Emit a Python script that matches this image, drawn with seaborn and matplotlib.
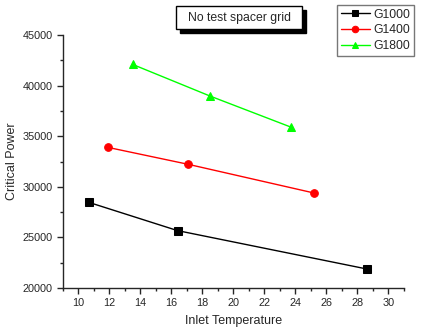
import matplotlib
matplotlib.use("Agg")
import matplotlib.pyplot as plt
from matplotlib.ticker import MultipleLocator
from matplotlib.patches import Rectangle
import seaborn as sns
import pandas as pd

sns.set_style("ticks")
plt.rcParams['font.family'] = ['Liberation Sans', 'DejaVu Sans']

series = ["G1000", "G1400", "G1800"]
x_g1000 = [10.7, 16.4, 28.6]
y_g1000 = [28450, 25670, 21880]
x_g1400 = [11.9, 17.1, 25.2]
y_g1400 = [33900, 32220, 29390]
x_g1800 = [13.5, 18.5, 23.7]
y_g1800 = [42100, 38970, 35910]
colors = ["#000000", "#ff0000", "#00ff00"]
markers = ["s", "o", "^"]

df = pd.concat([
    pd.DataFrame({"x": x_g1000, "y": y_g1000, "s": "G1000"}),
    pd.DataFrame({"x": x_g1400, "y": y_g1400, "s": "G1400"}),
    pd.DataFrame({"x": x_g1800, "y": y_g1800, "s": "G1800"}),
])

W, H = 422, 331
fig = plt.figure(figsize=(W / 100, H / 100), dpi=100)
ax = fig.add_axes([0.149, 0.130, 0.808, 0.764])
for name, c, m in zip(series, colors, markers):
    d = df[df["s"] == name]
    sns.lineplot(data=d, x="x", y="y", ax=ax, color=c, marker=m, markersize=5.5,
                 markeredgecolor=c, linewidth=1.0, label=name, sort=False,
                 legend=False)

ax.set_xlim(9, 31)
ax.set_ylim(20000, 45000)
ax.xaxis.set_major_locator(MultipleLocator(2))
ax.xaxis.set_minor_locator(MultipleLocator(1))
ax.yaxis.set_major_locator(MultipleLocator(5000))
ax.yaxis.set_minor_locator(MultipleLocator(2500))
ax.tick_params(which="major", length=4, width=1, labelsize=7.8, direction="out")
ax.tick_params(which="minor", length=2.5, width=1, direction="out")
for s in ["top", "right"]:
    ax.spines[s].set_visible(False)
for s in ["left", "bottom"]:
    ax.spines[s].set_linewidth(1)
ax.set_xlabel("Inlet Temperature", fontsize=9, labelpad=5)
ax.set_ylabel("Critical Power", fontsize=9, labelpad=3)

handles = ax.get_lines()
leg = fig.legend(handles, series, loc="upper left",
                 bbox_to_anchor=(337 / W, 1 - 5 / H), fontsize=8.8,
                 frameon=True, fancybox=False, edgecolor="#555555",
                 handlelength=2.4, handletextpad=0.3, borderpad=0.3,
                 labelspacing=0.3, borderaxespad=0, markerscale=0.85)
leg.get_frame().set_linewidth(1)

# title box with shadow
bx0, bx1, by0, by1 = 176, 302, 6, 29
fig.patches.append(Rectangle(((bx0 + 4) / W, 1 - (by1 + 4) / H), (bx1 - bx0) / W,
                             (by1 - by0) / H, transform=fig.transFigure,
                             fc="black", ec="black", lw=1, zorder=1))
fig.patches.append(Rectangle((bx0 / W, 1 - by1 / H), (bx1 - bx0) / W,
                             (by1 - by0) / H, transform=fig.transFigure,
                             fc="white", ec="black", lw=1, zorder=2))
fig.text((bx0 + bx1) / 2 / W, 1 - (by0 + by1) / 2 / H, "No test spacer grid",
         fontsize=8.8, ha="center", va="center", zorder=3)

fig.savefig("out.png", dpi=100)
